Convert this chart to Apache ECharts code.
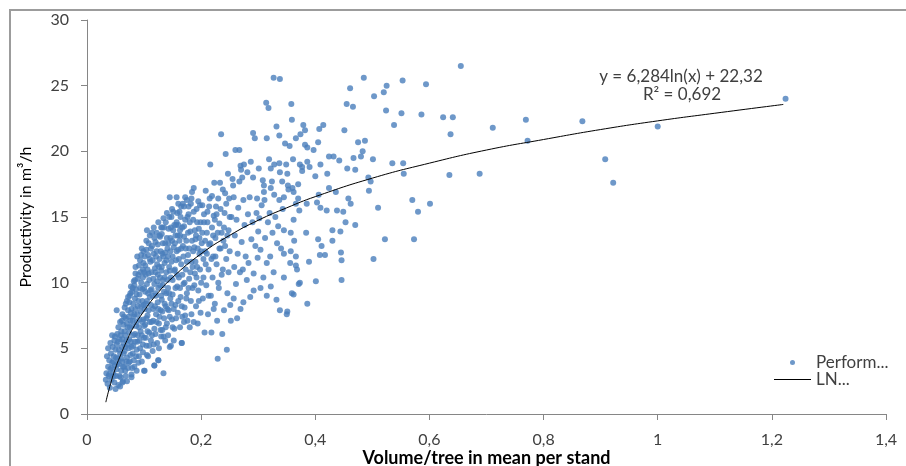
<!DOCTYPE html>
<html>
<head>
<meta charset="utf-8">
<script src="https://cdn.jsdelivr.net/npm/echarts@6/dist/echarts.min.js"></script>
<style>
  html, body { margin: 0; padding: 0; background: #fff; }
  #chart { width: 906px; height: 466px; }
</style>
</head>
<body>
<div id="chart"></div>
<script>
// --- data: [volume/tree, productivity] ---
const coreLow = [
  [0.033,2.6],[0.034,3.1],[0.036,2.3],[0.037,3.6],[0.038,2.9],[0.039,4.1],[0.040,2.0],[0.041,3.4],[0.042,4.6],[0.043,2.6],
  [0.044,3.9],[0.045,5.1],[0.046,3.1],[0.047,4.4],[0.048,2.4],[0.048,5.6],[0.049,3.7],[0.050,4.9],[0.050,1.9],[0.051,2.9],
  [0.052,5.3],[0.052,3.4],[0.053,6.1],[0.054,4.2],[0.052,7.9],[0.058,2.1],[0.062,2.4],[0.070,2.5],[0.078,2.8],[0.087,3.3],
  [0.055,2.2],[0.056,3.8],[0.057,5.7],[0.058,4.6],[0.058,7.0],[0.059,2.8],[0.060,6.3],[0.060,3.3],[0.061,5.1],[0.062,7.6],
  [0.062,4.0],[0.063,2.5],[0.064,6.8],[0.064,5.4],[0.065,3.6],[0.066,8.1],[0.066,4.8],[0.067,6.0],[0.068,2.9],[0.068,7.3],
  [0.069,5.6],[0.070,4.3],[0.070,8.6],[0.071,6.6],[0.072,3.5],[0.072,7.9],[0.073,5.0],[0.074,8.5],[0.074,6.2],[0.075,4.0],
  [0.076,7.1],[0.076,9.2],[0.077,5.5],[0.078,3.0],[0.078,8.0],[0.079,6.7],[0.080,4.6],[0.080,9.6],[0.077,9.7],[0.084,10.2],
  [0.081,5.2],[0.082,7.4],[0.082,10.1],[0.083,3.6],[0.084,8.8],[0.084,6.1],[0.085,11.2],[0.086,4.4],[0.086,9.5],[0.087,7.0],
  [0.088,12.0],[0.088,5.5],[0.089,8.2],[0.090,10.6],[0.090,3.9],[0.091,6.6],[0.092,9.1],[0.093,11.7],[0.093,5.0],[0.094,7.8],
  [0.095,10.0],[0.096,6.0],[0.096,12.6],[0.097,8.6],[0.098,4.7],[0.098,11.0],[0.099,7.2],[0.100,9.6],[0.100,5.8],[0.099,11.5],
  [0.101,3.3],[0.102,6.8],[0.102,11.3],[0.103,8.4],[0.104,13.2],[0.104,5.2],[0.105,9.9],[0.106,7.5],[0.107,12.1],[0.107,4.4],
  [0.108,10.7],[0.109,6.2],[0.110,8.9],[0.110,13.6],[0.111,11.6],[0.112,5.6],[0.113,9.5],[0.113,7.0],[0.114,12.8],[0.115,4.8],
  [0.116,10.3],[0.116,8.0],[0.117,14.2],[0.118,6.5],[0.118,3.7],[0.119,11.1],[0.120,9.2],[0.120,13.1],[0.121,7.6],[0.122,12.4],
  [0.123,5.4],[0.124,10.6],[0.124,8.5],[0.125,14.6],[0.125,4.1],[0.126,6.9],[0.127,11.8],[0.128,9.8],[0.128,13.5],[0.129,7.9],
  [0.130,5.9],[0.130,10.9],[0.105,14.0],[0.100,3.3],[0.134,3.1]
];
const coreFillLow = [
  [0.035,4.4],[0.037,5.0],[0.039,3.0],[0.041,5.4],[0.043,3.5],[0.044,6.0],[0.046,4.0],[0.047,2.9],[0.049,5.9],[0.051,4.3],
  [0.053,3.8],[0.054,5.5],[0.055,6.6],[0.056,4.9],[0.057,2.9],[0.059,6.0],[0.060,4.2],[0.061,7.1],[0.062,5.7],[0.063,3.6],
  [0.064,4.6],[0.065,7.4],[0.066,6.3],[0.067,3.3],[0.067,5.1],[0.068,8.4],[0.069,4.0],[0.070,6.9],[0.071,5.3],[0.072,8.9],
  [0.073,3.9],[0.073,7.4],[0.074,5.7],[0.075,9.0],[0.075,6.6],[0.076,4.5],[0.077,7.7],[0.078,5.1],[0.079,9.3],[0.079,3.5],
  [0.080,7.1],[0.081,8.4],[0.081,6.0],[0.082,4.1],[0.083,9.8],[0.083,7.6],[0.084,5.5],[0.085,10.7],[0.085,8.0],[0.086,6.7],
  [0.087,4.9],[0.087,9.1],[0.088,7.6],[0.089,10.3],[0.089,6.0],[0.090,8.6],[0.091,11.3],[0.091,4.4],[0.092,7.2],[0.092,5.6],
  [0.093,9.6],[0.094,10.8],[0.094,6.3],[0.095,8.2],[0.095,12.1],[0.096,4.0],[0.097,9.5],[0.097,7.0],[0.098,10.4],[0.098,5.3],
  [0.099,8.3],[0.099,12.4],[0.100,6.7],[0.100,10.8]
];
const coreMid = [
  [0.131,13.7],[0.131,8.7],[0.132,12.2],[0.132,6.4],[0.133,10.2],[0.134,14.9],[0.135,9.3],[0.135,7.3],[0.136,11.5],[0.137,13.0],
  [0.137,5.6],[0.138,8.2],[0.139,10.8],[0.140,15.3],[0.140,6.9],[0.141,12.6],[0.142,9.6],[0.143,14.1],[0.143,7.9],[0.144,11.2],
  [0.145,5.1],[0.146,13.4],[0.146,8.8],[0.147,10.4],[0.147,5.2],[0.148,15.0],[0.149,7.2],[0.150,12.0],[0.150,9.1],[0.151,14.0],
  [0.152,5.6],[0.153,10.9],[0.153,6.5],[0.154,13.0],[0.155,8.3],[0.156,11.7],[0.157,16.5],[0.157,14.6],[0.158,9.7],[0.159,7.7],
  [0.160,12.5],[0.132,14.2],[0.145,16.5],[0.160,16.0],[0.149,15.6],[0.162,15.4],[0.166,5.4],[0.166,5.4],[0.118,3.7],[0.125,4.1],
  [0.161,10.4],[0.163,6.6],[0.163,13.6],[0.164,8.9],[0.165,15.8],[0.165,11.4],[0.167,7.4],[0.168,12.8],[0.169,9.9],[0.170,14.3],
  [0.171,8.1],[0.172,16.5],[0.172,7.5],[0.173,11.0],[0.174,13.2],[0.175,9.2],[0.176,7.1],[0.177,12.1],[0.178,15.2],[0.179,10.3],
  [0.180,6.6],[0.181,13.9],[0.182,8.6],[0.183,11.6],[0.184,16.9],[0.185,9.6],[0.186,14.8],[0.187,7.0],[0.188,12.7],[0.189,10.7],
  [0.190,13.3],[0.191,8.2],[0.192,15.6],[0.193,11.2],[0.194,6.9],[0.195,9.4],[0.196,14.1],[0.197,12.2],[0.198,15.9],[0.199,7.7],
  [0.200,10.0],[0.175,16.3],[0.183,16.4],[0.187,17.2],[0.170,15.8],[0.178,15.8],[0.163,14.0],[0.156,14.4]
];
const coreFillMid = [
  [0.101,12.0],[0.101,8.0],[0.102,9.3],[0.103,5.8],[0.103,10.6],[0.104,7.3],[0.104,12.5],[0.105,8.6],[0.105,4.5],[0.106,11.0],
  [0.106,6.3],[0.107,9.2],[0.108,13.0],[0.108,7.9],[0.109,10.2],[0.109,5.2],[0.110,11.8],[0.110,7.0],[0.111,9.4],[0.112,12.6],
  [0.112,8.3],[0.113,10.8],[0.114,6.0],[0.114,13.8],[0.115,9.0],[0.115,11.7],[0.116,7.1],[0.117,12.2],[0.117,5.3],[0.118,9.9],
  [0.118,13.4],[0.119,8.2],[0.120,10.8],[0.120,6.1],[0.121,12.0],[0.121,9.0],[0.122,7.0],[0.122,13.8],[0.123,10.1],[0.123,11.4],
  [0.124,12.9],[0.125,8.0],[0.125,9.6],[0.126,11.2],[0.126,5.0],[0.127,13.6],[0.127,7.4],[0.128,10.4],[0.129,12.4],[0.129,6.4],
  [0.130,9.0],[0.130,14.2],[0.131,11.2],[0.132,7.8],[0.133,13.0],[0.133,9.8],[0.134,12.0],[0.134,5.9],[0.135,14.2],[0.136,8.4],
  [0.136,10.4],[0.137,12.3],[0.138,6.6],[0.138,14.6],[0.139,9.2],[0.139,11.7],[0.140,13.4],[0.141,8.0],[0.141,10.2],[0.142,12.0],
  [0.142,6.0],[0.143,13.0],[0.144,9.2],[0.144,15.0],[0.145,10.9],[0.145,7.4],[0.146,12.4],[0.147,14.2],[0.148,8.4],[0.148,11.6],
  [0.149,13.2],[0.150,10.2],[0.150,6.6],[0.151,15.4],[0.152,12.7],[0.152,8.0],[0.153,14.4],[0.154,11.0],[0.155,9.6],[0.155,13.6],
  [0.156,7.3],[0.157,12.4],[0.158,15.3],[0.158,10.6],[0.159,13.6],[0.160,8.6],[0.160,14.4],
  [0.161,11.8],[0.162,13.2],[0.163,9.6],[0.164,15.0],[0.165,12.6],[0.166,8.2],[0.167,14.2],[0.167,10.6],[0.168,16.0],[0.169,12.0],
  [0.170,7.0],[0.170,13.5],[0.171,10.0],[0.172,14.8],[0.173,12.6],[0.174,8.8],[0.175,11.6],[0.176,15.0],[0.177,13.8],[0.178,9.6],
  [0.179,12.6],[0.180,14.6],[0.181,10.8],[0.182,16.0],[0.183,7.6],[0.184,13.2],[0.185,11.2],[0.186,12.4],[0.187,15.4],[0.188,9.8],
  [0.189,14.0],[0.190,11.6],[0.191,13.6],[0.192,10.4],[0.193,14.6],[0.194,12.6],[0.195,16.2],[0.196,8.6],[0.197,13.4],[0.198,11.0],
  [0.199,14.6],[0.200,12.4],[0.202,13.8],[0.204,10.4],[0.205,15.2],[0.207,13.2],[0.208,11.4],[0.210,12.2],[0.211,14.6],[0.213,9.0],
  [0.214,15.8],[0.216,13.0],[0.218,11.8],[0.219,16.6],[0.221,13.6],[0.222,8.0],[0.224,14.8],[0.225,12.0],[0.227,15.2],[0.229,13.8],
  [0.230,10.0],[0.232,12.6],[0.234,15.6],[0.236,13.8],[0.238,11.0],[0.240,14.2],[0.242,12.8],[0.244,16.0],[0.246,13.6],[0.248,10.8],
  [0.250,15.0]
];
const cloudUpper = [
  [0.201,13.0],[0.202,15.9],[0.203,8.8],[0.204,11.8],[0.205,14.6],[0.206,6.2],[0.207,12.4],[0.208,17.0],[0.209,9.8],[0.210,13.8],
  [0.211,15.4],[0.212,7.6],[0.213,11.0],[0.214,12.9],[0.215,16.4],[0.216,19.0],[0.217,9.0],[0.218,6.2],[0.219,14.2],[0.220,10.4],
  [0.221,12.0],[0.222,15.1],[0.223,17.6],[0.224,8.4],[0.225,13.4],[0.226,15.8],[0.227,11.4],[0.228,7.1],[0.229,4.2],[0.230,16.4],
  [0.231,9.6],[0.232,14.5],[0.233,17.6],[0.234,12.6],[0.235,21.3],[0.236,10.6],[0.237,6.1],[0.238,17.1],[0.239,13.2],[0.240,7.9],
  [0.241,15.3],[0.242,16.8],[0.243,19.8],[0.244,11.8],[0.245,4.9],[0.246,9.2],[0.247,18.3],[0.248,14.0],[0.249,16.4],[0.250,12.4],
  [0.251,8.3],[0.252,7.1],[0.253,15.0],[0.255,17.9],[0.256,17.4],[0.257,8.8],[0.257,16.5],[0.258,11.2],[0.259,13.6],[0.260,20.1],
  [0.261,9.9],[0.262,14.8],[0.263,7.3],[0.264,12.2],[0.265,15.7],[0.267,17.7],[0.267,20.1],[0.268,10.8],[0.269,8.0],[0.269,18.9],
  [0.270,18.6],[0.271,13.1],[0.272,18.0],[0.273,11.0],[0.274,8.5],[0.274,16.3],[0.275,19.0],[0.276,14.4],[0.278,12.0],[0.280,10.2],
  [0.281,18.4],[0.282,15.2],[0.283,11.5],[0.285,16.5],[0.286,8.9],[0.287,19.2],[0.288,13.3],[0.290,14.6],[0.291,21.4],[0.291,18.0],
  [0.292,9.4],[0.292,10.7],[0.294,21.0],[0.295,12.8],[0.297,15.3],[0.298,16.4],[0.299,11.9],[0.300,13.9],
  [0.301,18.7],[0.302,14.9],[0.304,9.6],[0.304,12.5],[0.306,15.9],[0.308,17.8],[0.309,10.4],[0.310,17.4],[0.310,16.9],[0.311,16.3],
  [0.312,13.4],[0.314,23.7],[0.315,9.0],[0.315,11.5],[0.315,21.0],[0.317,14.6],[0.318,23.3],[0.319,19.4],[0.320,15.3],[0.321,12.0],
  [0.322,9.7],[0.322,18.7],[0.322,17.2],[0.324,17.7],[0.325,13.8],[0.327,25.6],[0.327,10.8],[0.328,19.0],[0.328,16.7],[0.330,15.0],
  [0.332,21.9],[0.332,8.7],[0.333,13.0],[0.335,14.3],[0.337,21.2],[0.337,19.1],[0.337,16.3],[0.338,25.5],[0.338,18.4],[0.338,7.9],
  [0.340,12.6],[0.342,17.7],[0.343,15.6],[0.345,10.4],[0.345,12.2],[0.345,16.5],[0.345,14.0]
];
const sparseTail = [
  [0.347,20.6],[0.349,19.0],[0.350,7.6],[0.351,18.3],[0.351,7.8],[0.352,17.4],[0.353,17.1],[0.355,20.4],[0.356,11.5],[0.357,13.8],
  [0.357,12.4],[0.358,23.6],[0.359,22.4],[0.359,9.2],[0.360,17.2],[0.361,19.4],[0.362,14.8],[0.362,16.9],[0.362,9.1],[0.363,13.2],
  [0.366,21.0],[0.366,16.0],[0.366,11.3],[0.366,12.0],[0.368,11.0],[0.370,17.5],[0.370,16.4],[0.371,9.9],[0.372,15.5],[0.373,19.0],
  [0.373,10.0],[0.374,21.3],[0.377,18.5],[0.377,18.8],[0.379,22.0],[0.382,21.6],[0.382,20.5],[0.384,13.8],[0.385,16.0],[0.386,20.3],
  [0.386,19.2],[0.386,8.4],[0.389,11.6],[0.390,18.8],[0.397,20.1],[0.400,18.1],[0.401,10.1],
  [0.403,16.1],[0.405,20.7],[0.405,13.3],[0.406,16.7],[0.407,21.7],[0.408,12.1],[0.409,19.0],[0.409,15.7],[0.411,12.8],[0.414,22.0],
  [0.417,12.1],[0.420,15.5],[0.421,18.3],[0.424,19.6],[0.424,17.2],[0.430,14.0],[0.430,13.2],[0.432,19.6],[0.436,16.9],[0.438,15.5],
  [0.442,19.3],[0.444,13.9],[0.445,12.3],[0.446,11.7],[0.446,10.2],[0.449,15.4],[0.451,21.6],[0.453,14.6],[0.455,23.6],[0.456,18.7],
  [0.458,16.4],[0.461,24.8],[0.462,16.0],[0.466,23.4],[0.467,19.5],[0.470,18.6],[0.470,14.4],[0.475,20.7],[0.480,19.6],[0.483,20.0],
  [0.485,25.6],[0.487,20.8],[0.493,18.0],[0.494,17.0],[0.497,17.7],
  [0.501,19.4],[0.502,11.8],[0.503,24.2],[0.510,15.7],[0.520,24.5],[0.522,13.3],[0.524,23.1],[0.525,25.0],[0.535,19.1],[0.538,22.0],
  [0.551,22.9],[0.553,25.4],[0.554,19.1],[0.555,18.3],[0.570,16.3],[0.573,13.3],[0.580,15.4],[0.586,22.8],[0.594,25.1],[0.601,16.0],
  [0.624,22.6],[0.635,18.2],[0.637,21.3],[0.641,22.6],[0.655,26.5],[0.688,18.3],[0.711,21.8],[0.769,22.4],[0.772,20.8],[0.868,22.3],
  [0.908,19.4],[0.922,17.6],[1.000,21.9],[1.224,24.0]
];

// trend line (LN)
const trendX = [0.033, 0.04, 0.05, 0.06, 0.07, 0.08, 0.1, 0.12, 0.15, 0.2, 0.25, 0.3, 0.35, 0.4, 0.5, 0.6, 0.7, 0.8, 0.9, 1.0, 1.1, 1.22];
const trendY = [0.9, 2.1, 3.5, 4.6, 5.6, 6.5, 7.85, 9.0, 10.4, 12.2, 13.6, 14.75, 15.7, 16.55, 17.96, 19.1, 20.1, 20.9, 21.66, 22.32, 22.9, 23.57];

const FONT = 'Lato';
const AXIS_GRAY = '#868686';
const TEXT_COLOR = '#404040';
const DOT_BLUE = '#4a7ebb';

const fmt = v => String(v).replace('.', ',');

const chart = echarts.init(document.getElementById('chart'));

chart.setOption({
  backgroundColor: '#fff',
  animation: false,
  grid: { left: 87, right: 20, top: 20, bottom: 52, containLabel: false, outerBoundsMode: 'none' },
  xAxis: {
    type: 'value',
    min: 0, max: 1.4, interval: 0.2,
    name: 'Volume/tree in mean per stand',
    nameLocation: 'middle',
    nameGap: 35,
    nameMoveOverlap: false,
    nameTextStyle: { fontFamily: FONT, fontSize: 18, fontWeight: 'bold', color: '#000' },
    axisLine: { lineStyle: { color: AXIS_GRAY } },
    axisTick: { show: true, inside: false, length: 6, lineStyle: { color: AXIS_GRAY } },
    axisLabel: { formatter: fmt, fontFamily: FONT, fontSize: 16, color: TEXT_COLOR, margin: 18 },
    splitLine: { show: false }
  },
  yAxis: {
    type: 'value',
    min: 0, max: 30, interval: 5,
    name: 'Productivity in m³/h',
    nameLocation: 'middle',
    nameGap: 53,
    nameMoveOverlap: false,
    nameTextStyle: { fontFamily: FONT, fontSize: 16, color: '#000' },
    axisLine: { show: true, lineStyle: { color: AXIS_GRAY } },
    axisTick: { show: true, inside: false, length: 6, lineStyle: { color: AXIS_GRAY } },
    axisLabel: { fontFamily: FONT, fontSize: 16, color: TEXT_COLOR, margin: 18 },
    splitLine: { show: false }
  },
  legend: {
    orient: 'vertical',
    left: 769, top: 349,
    itemWidth: 37, itemHeight: 5, itemGap: 0,
    textStyle: { fontFamily: FONT, fontSize: 17, color: TEXT_COLOR, lineHeight: 16 },
    data: [
      { name: 'Perform...', icon: 'circle' },
      { name: 'LN...', icon: 'path://M0,0L37,0L37,1L0,1Z' }
    ]
  },
  graphic: [
    {
      type: 'rect', silent: true,
      shape: { x: 10, y: 10, width: 1000, height: 1000 },
      style: { fill: 'none', stroke: '#9c9c9c', lineWidth: 2 }
    },
    {
      type: 'text', x: 681, y: 77,
      style: { text: 'y = 6,284ln(x) + 22,32', font: '17px ' + FONT, fill: TEXT_COLOR, textAlign: 'center', textVerticalAlign: 'middle' }
    },
    {
      type: 'text', x: 682, y: 95,
      style: { text: 'R² = 0,692', font: '17px ' + FONT, fill: TEXT_COLOR, textAlign: 'center', textVerticalAlign: 'middle' }
    }
  ],
  series: [
    {
      name: 'Perform...',
      type: 'scatter',
      symbol: 'circle',
      symbolSize: 6,
      itemStyle: { color: DOT_BLUE },
      data: [].concat(coreLow, coreFillLow, coreMid, coreFillMid, cloudUpper, sparseTail)
    },
    {
      name: 'LN...',
      type: 'line',
      symbol: 'none',
      smooth: true,
      lineStyle: { color: '#000', width: 1 },
      itemStyle: { color: '#000' },
      z: 3,
      data: trendX.map((x, i) => [x, trendY[i]])
    }
  ]
});
</script>
</body>
</html>
